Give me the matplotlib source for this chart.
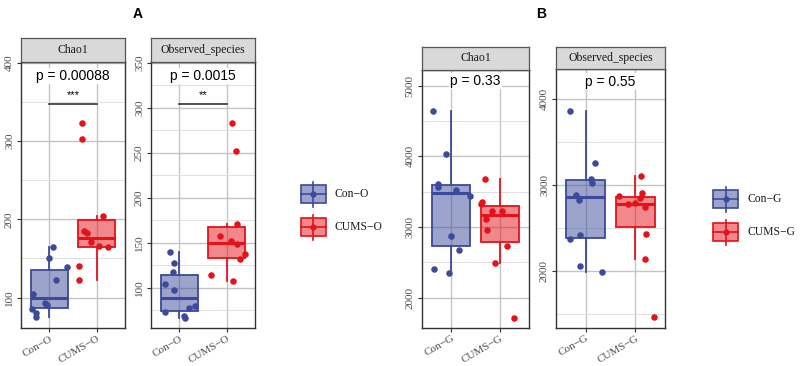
import numpy as np
import matplotlib
matplotlib.use("Agg")
import matplotlib.pyplot as plt
from matplotlib.patches import Rectangle

# values
groups_o = ["Con\u2212O", "CUMS\u2212O"]
groups_g = ["Con\u2212G", "CUMS\u2212G"]

chao1_con_o = [105, 85, 80, 75, 151, 165, 122, 139, 93, 90]
chao1_cums_o = [323, 302, 185, 182, 171, 166, 204, 164, 140, 123]
obs_con_o = [140, 127, 118, 104, 97, 73, 69, 66, 77, 80]
obs_cums_o = [114, 157, 283, 252, 171, 151.5, 148.5, 138, 132, 107]

chao1_con_g = [4641, 4028, 3604, 3571, 3524, 3444, 2873, 2675, 2410, 2345]
chao1_cums_g = [3675, 3349, 3325, 3226, 3226, 3109, 2958, 2736, 2495, 1717]
obs_con_g = [3860, 3259, 3066, 3027, 2884, 2826, 2419, 2368, 2058, 1992]
obs_cums_g = [3105, 2872, 2903, 2845, 2775, 2748, 2427, 2140, 1461, 2790]

# horizontal jitter of each point (fraction of category spacing)
jit_chao1_con_o = [-0.35, -0.37, -0.29, -0.28, 0.0, 0.08, 0.15, 0.38, -0.10, -0.05]
jit_chao1_cums_o = [-0.32, -0.30, -0.27, -0.20, -0.11, 0.05, 0.13, 0.25, -0.38, -0.37]
jit_obs_con_o = [-0.20, -0.12, -0.14, -0.31, -0.12, -0.31, 0.09, 0.11, 0.20, 0.33]
jit_obs_cums_o = [-0.34, -0.14, 0.12, 0.19, 0.22, 0.10, 0.22, 0.38, 0.29, 0.14]
jit_chao1_con_g = [-0.365, -0.10, -0.26, -0.27, 0.10, 0.38, -0.01, 0.16, -0.35, -0.05]
jit_chao1_cums_g = [-0.30, -0.37, -0.385, -0.17, 0.05, -0.28, -0.26, 0.135, -0.10, 0.28]
jit_obs_con_g = [-0.31, 0.195, 0.11, 0.13, -0.20, -0.13, -0.12, -0.31, -0.12, 0.335]
jit_obs_cums_g = [0.12, -0.33, 0.13, 0.09, -0.15, 0.19, 0.21, 0.20, 0.375, -0.01]

p_values = ["p = 0.00088", "p = 0.0015", "p = 0.33", "p = 0.55"]
stars = ["***", "**", None, None]

BLUE = "#3B4A9A"
RED = "#E3121B"
SERIF = "Liberation Serif"
SANS = "Liberation Sans"
W, H = 800, 366

fig = plt.figure(figsize=(8, 3.66), dpi=100)


def px_axes(x0, y0, x1, y1):
    return fig.add_axes([x0 / W, 1 - y1 / H, (x1 - x0) / W, (y1 - y0) / H])


def panel(box, strip_top, title, data, jit, groups, ylim, major, minor,
          ptxt, py, star=None, bar_y=None, star_y=None):
    x0, y0, x1, y1 = box
    ax = px_axes(x0, y0, x1, y1)
    st = px_axes(x0, strip_top, x1, y0)
    st.set_facecolor("#D9D9D9")
    st.set_xticks([]); st.set_yticks([])
    for s in st.spines.values():
        s.set_color("#555555"); s.set_linewidth(0.9)
    st.text(0.5, 0.5, title, ha="center", va="center", family=SERIF,
            fontsize=8.5, color="#1a1a1a", transform=st.transAxes)

    ax.set_xlim(0.4, 2.6)
    ax.set_ylim(*ylim)
    ax.set_yticks(major)
    ax.set_yticks(minor, minor=True)
    ax.set_xticks([1, 2])
    ax.grid(True, which="major", color="#C4C4C4", lw=1.0)
    ax.grid(True, which="minor", axis="y", color="#E0E0E0", lw=0.7)
    ax.set_axisbelow(True)
    ax.tick_params(which="minor", length=0)
    ax.tick_params(which="major", length=3, color="#333333", width=0.8,
                   labelsize=8, labelcolor="#4D4D4D", pad=2)
    ax.tick_params(axis="x", pad=1.5)
    ax.set_yticklabels([str(v) for v in major], rotation=90, va="center",
                       family=SERIF)
    ax.set_xticklabels(groups, rotation=30, ha="right",
                       rotation_mode="anchor", family=SERIF)
    for s in ax.spines.values():
        s.set_color("#333333"); s.set_linewidth(1.0)

    for i, (vals, jj, col) in enumerate(zip(data, jit, [BLUE, RED])):
        pos = i + 1
        bp = ax.boxplot(vals, positions=[pos], widths=0.78, patch_artist=True,
                        showfliers=False, showcaps=False, whis=1.5,
                        manage_ticks=False)
        for b in bp["boxes"]:
            b.set_facecolor(matplotlib.colors.to_rgba(col, 0.5))
            b.set_edgecolor(col); b.set_linewidth(1.3)
        for w in bp["whiskers"]:
            w.set_color(col); w.set_linewidth(1.3)
        for m in bp["medians"]:
            m.set_color(col); m.set_linewidth(2.2)
        ax.scatter(pos + np.array(jj), vals, s=22, color=col, zorder=4,
                   linewidths=0)

    ax.text(1.5, py, ptxt, ha="center", va="center", family=SANS,
            fontsize=10, color="black", zorder=5,
            bbox=dict(facecolor="white", edgecolor="none", pad=1.0))
    if star:
        ax.plot([1, 2], [bar_y, bar_y], color="#333333", lw=1.2, zorder=5)
        ax.text(1.5, star_y, star, ha="center", va="center", family=SANS,
                fontsize=8, color="black", zorder=5)
    return ax


panel((21, 62, 125, 327.7), 38, "Chao1", [chao1_con_o, chao1_cums_o],
      [jit_chao1_con_o, jit_chao1_cums_o], groups_o, (61.5, 401),
      [100, 200, 300, 400], [150, 250, 350], p_values[0], 383,
      stars[0], 347, 359)
panel((151, 62, 255, 327.7), 38, "Observed_species", [obs_con_o, obs_cums_o],
      [jit_obs_con_o, jit_obs_cums_o], groups_o, (55.6, 351),
      [100, 150, 200, 250, 300, 350], [75, 125, 175, 225, 275, 325],
      p_values[1], 335.5, stars[1], 304, 314)
panel((421.7, 70, 529.3, 327.7), 46.7, "Chao1", [chao1_con_g, chao1_cums_g],
      [jit_chao1_con_g, jit_chao1_cums_g], groups_g, (1575, 5222),
      [2000, 3000, 4000, 5000], [2500, 3500, 4500], p_values[2], 5066)
panel((556, 69.3, 665, 327.7), 46.7, "Observed_species",
      [obs_con_g, obs_cums_g], [jit_obs_con_g, jit_obs_cums_g], groups_g,
      (1341, 4345), [2000, 3000, 4000], [1500, 2500, 3500],
      p_values[3], 4201)

fig.text(138 / W, 1 - 14 / H, "A", ha="center", va="center", family=SANS,
         fontweight="bold", fontsize=10)
fig.text(541 / W, 1 - 14 / H, "B", ha="center", va="center", family=SANS,
         fontweight="bold", fontsize=10)

# legends drawn as boxplot keys
lg = fig.add_axes([280 / W, 0, 520 / W, 1], zorder=-1)
lg.set_xlim(280, W); lg.set_ylim(H, 0); lg.axis("off")


def key(xl, yc, col, label):
    lg.plot([xl + 12.5, xl + 12.5], [yc - 12.5, yc + 12.5], color=col, lw=1.2)
    lg.add_patch(Rectangle((xl, yc - 9), 25, 18,
                           facecolor=matplotlib.colors.to_rgba(col, 0.5),
                           edgecolor=col, lw=1.2))
    lg.plot([xl, xl + 25], [yc, yc], color=col, lw=1.2)
    lg.scatter([xl + 12.5], [yc], s=20, color=col, linewidths=0, zorder=3)
    lg.text(xl + 34, yc, label, ha="left", va="center", family=SERIF,
            fontsize=8.4, color="#1a1a1a")


key(301, 194, BLUE, groups_o[0])
key(301, 227, RED, groups_o[1])
key(713, 199, BLUE, groups_g[0])
key(713, 232, RED, groups_g[1])

fig.savefig("out.png", dpi=100)
